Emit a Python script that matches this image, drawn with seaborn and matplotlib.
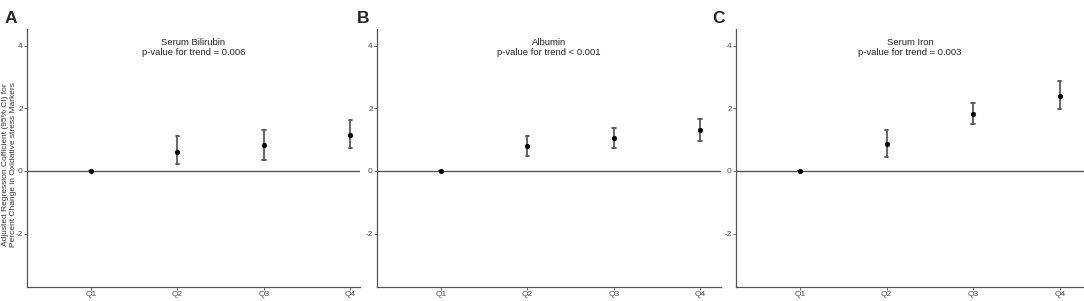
import pandas as pd
import matplotlib
matplotlib.use('Agg')
import matplotlib.pyplot as plt
import seaborn as sns

# Data
quartiles = ['Q1', 'Q2', 'Q3', 'Q4']
bili_est = [0.0, 0.60, 0.82, 1.16]
bili_lo = [0.0, 0.21, 0.35, 0.72]
bili_hi = [0.0, 1.10, 1.29, 1.62]
alb_est = [0.0, 0.80, 1.05, 1.29]
alb_lo = [0.0, 0.46, 0.73, 0.94]
alb_hi = [0.0, 1.12, 1.38, 1.65]
iron_est = [0.0, 0.86, 1.81, 2.40]
iron_lo = [0.0, 0.43, 1.48, 1.99]
iron_hi = [0.0, 1.29, 2.15, 2.88]

panels = [
    ('A', 'Serum Bilirubin\np-value for trend = 0.006', bili_est, bili_lo, bili_hi),
    ('B', 'Albumin\np-value for trend < 0.001', alb_est, alb_lo, alb_hi),
    ('C', 'Serum Iron\np-value for trend = 0.003', iron_est, iron_lo, iron_hi),
]

sns.set_style('white')
plt.rcParams['font.family'] = ['Liberation Sans', 'DejaVu Sans']
plt.rcParams['axes.unicode_minus'] = False

fig = plt.figure(figsize=(10.84, 3.01), dpi=100)

# axes rectangles in figure fraction (left, width, right xlim, letter x)
rects = [(0.0249, 0.3072, 3.11, 0.004), (0.3478, 0.3173, 3.24, 0.329),
         (0.6790, 0.3210, 3.28, 0.657)]

for (letter, title, est, lo, hi), (left, width, xr, lx) in zip(panels, rects):
    ax = fig.add_axes([left, 0.045, width, 0.859])
    # long form: low / estimate / high per quartile -> median with min-max interval
    df = pd.DataFrame({
        'Quartile': quartiles * 3,
        'value': lo + est + hi,
    })
    ax.axhline(0, color='#555555', lw=1.0, zorder=1)
    sns.pointplot(data=df, x='Quartile', y='value', order=quartiles,
                  estimator='median', errorbar=('pi', 100), capsize=0.04,
                  linestyle='none', marker='', color='#5a5a5a',
                  err_kws={'linewidth': 1.3}, ax=ax)
    pts = pd.DataFrame({'Quartile': quartiles, 'value': est})
    sns.scatterplot(data=pts, x='Quartile', y='value', color='black', s=12,
                    edgecolor='black', zorder=5, ax=ax)
    ax.set_xlim(-0.74, xr)
    ax.set_ylim(-3.72, 4.53)
    ax.set_yticks([-2, 0, 2, 4])
    ax.set_xlabel('')
    ax.set_ylabel('')
    ax.tick_params(axis='both', labelsize=6, labelcolor='#4d4d4d', colors='#4d4d4d',
                   length=2, width=0.6, pad=1, left=True, bottom=True)
    ax.tick_params(axis='x', pad=0.5)
    for s in ['top', 'right']:
        ax.spines[s].set_visible(False)
    for s in ['left', 'bottom']:
        ax.spines[s].set_color('#555555')
        ax.spines[s].set_linewidth(0.9)
    ax.text(0.5, 0.965, title, transform=ax.transAxes, ha='center', va='top',
            fontsize=6.8, color='#222222', linespacing=1.15)
    fig.text(lx, 0.965, letter, fontsize=12.5, fontweight='bold',
             va='top', ha='left')

fig.text(0.0088, 0.452, 'Adjusted Regression Cofficient (95% CI) for\n'
         'Percent Change in Oxidative stress Markers',
         rotation=90, ha='center', va='center', fontsize=6, color='#333333',
         linespacing=1.05)

fig.savefig('out.png', dpi=100)
